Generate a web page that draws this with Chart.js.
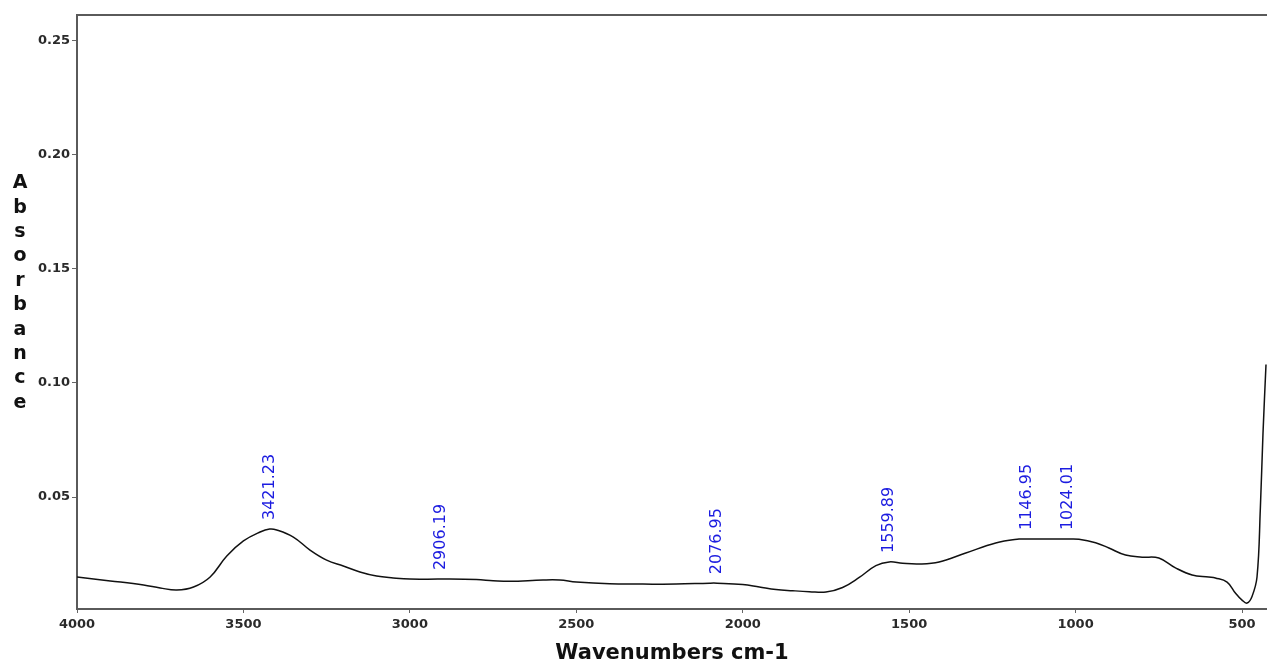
<!DOCTYPE html>
<html>
<head>
<meta charset="utf-8">
<title>FTIR Absorbance</title>
<script src="https://cdn.jsdelivr.net/npm/chart.js@4.4.1/dist/chart.umd.min.js"></script>
<style>
  html, body { margin: 0; padding: 0; background: #fff; }
  #wrap { width: 1267px; height: 666px; position: relative; }
</style>
</head>
<body>
<div id="wrap"><canvas id="ftirChart"></canvas></div>
<script>
// spectrum (wavenumber cm-1 -> absorbance)
const wavenumbers = [4000, 3900, 3800, 3750, 3700, 3650, 3600, 3550, 3500, 3450, 3421.23, 3400, 3350, 3300,
  3250, 3200, 3150, 3100, 3050, 3000, 2906.19, 2800, 2750, 2700, 2600, 2550, 2500, 2400, 2300, 2200,
  2100, 2076.95, 2000, 1950, 1900, 1850, 1800, 1750, 1700, 1650, 1600, 1559.89, 1520, 1470,
  1410, 1330, 1240, 1170, 1146.95, 1100, 1024.01, 990, 940, 900, 850, 800, 750, 700, 650,
  600, 580, 545, 520, 500, 485, 470, 455, 445, 437, 428];
const absorbance = [0.0150, 0.0133, 0.0115, 0.0102, 0.0093, 0.0106, 0.0150, 0.0242, 0.0308, 0.0347, 0.0360, 0.0356, 0.0325, 0.0268,
  0.0224, 0.0198, 0.0172, 0.0154, 0.0146, 0.0141, 0.0141, 0.0139, 0.0134, 0.0131, 0.0137, 0.0137, 0.0128, 0.0120, 0.0119, 0.0119,
  0.0123, 0.0123, 0.0117, 0.0106, 0.0095, 0.0090, 0.0086, 0.0084, 0.0104, 0.0148, 0.0200, 0.0216, 0.0210, 0.0207,
  0.0216, 0.0255, 0.0299, 0.0316, 0.0316, 0.0316, 0.0316, 0.0315, 0.0300, 0.0277, 0.0246, 0.0237, 0.0233, 0.0190, 0.0159,
  0.0150, 0.0146, 0.0128, 0.0080, 0.0049, 0.0036, 0.0065, 0.0150, 0.0450, 0.0780, 0.1080];

// labelled peaks
const peakLabels = ['3421.23', '2906.19', '2076.95', '1559.89', '1146.95', '1024.01'];

// axis ticks
const xTicks = [4000, 3500, 3000, 2500, 2000, 1500, 1000, 500];
const yTicks = [0.05, 0.10, 0.15, 0.20, 0.25];

const points = wavenumbers.map((w, i) => ({ x: w, y: absorbance[i] }));

const tickFont = { family: "'DejaVu Sans', sans-serif", size: 13, weight: 'bold' };

// peak annotations, top border line and stacked y title
const decorations = {
  id: 'decorations',
  afterDatasetsDraw(chart) {
    const { ctx, chartArea, scales } = chart;
    ctx.save();
    ctx.fillStyle = '#1c1ce0';
    ctx.font = "16px 'DejaVu Sans', sans-serif";
    ctx.textAlign = 'left';
    ctx.textBaseline = 'middle';
    peakLabels.forEach(lbl => {
      const w = parseFloat(lbl);
      const i = wavenumbers.indexOf(w);
      const px = scales.x.getPixelForValue(w);
      const py = scales.y.getPixelForValue(absorbance[i]);
      ctx.save();
      ctx.translate(px, py - 9);
      ctx.rotate(-Math.PI / 2);
      ctx.fillText(lbl, 0, 0);
      ctx.restore();
    });

    ctx.strokeStyle = '#5a5a5a';
    ctx.lineWidth = 2;
    ctx.beginPath();
    ctx.moveTo(chartArea.left, chartArea.top);
    ctx.lineTo(chartArea.right, chartArea.top);
    ctx.stroke();

    ctx.fillStyle = '#111';
    ctx.font = "bold 19px 'DejaVu Sans', sans-serif";
    ctx.textAlign = 'center';
    ctx.textBaseline = 'middle';
    const word = 'Absorbance';
    const step = 24.4;
    const mid = (chartArea.top + chartArea.bottom) / 2;
    const start = mid - (word.length - 1) * step / 2 - 19;
    [...word].forEach((ch, k) => ctx.fillText(ch, 20, start + k * step));
    ctx.restore();
  }
};

new Chart(document.getElementById('ftirChart'), {
  type: 'line',
  data: {
    datasets: [{
      data: points,
      borderColor: '#111',
      borderWidth: 1.5,
      pointRadius: 0,
      fill: false,
      tension: 0.4
    }]
  },
  options: {
    responsive: true,
    maintainAspectRatio: false,
    animation: false,
    layout: { padding: { top: 15, right: 0, left: 0, bottom: 0 } },
    plugins: {
      legend: { display: false },
      tooltip: { enabled: false }
    },
    scales: {
      x: {
        type: 'linear',
        reverse: true,
        min: 425,
        max: 4000,
        afterBuildTicks: s => { s.ticks = xTicks.map(v => ({ value: v })); },
        afterFit: s => { s.height = 57; },
        grid: { drawOnChartArea: false, drawTicks: true, tickLength: 4, color: '#666' },
        border: { display: true, color: '#5a5a5a', width: 2 },
        ticks: { color: '#2a2a2a', font: tickFont, padding: 4, maxRotation: 0, callback: v => String(v) },
        title: {
          display: true,
          text: 'Wavenumbers cm-1',
          color: '#111',
          font: { family: "'DejaVu Sans', sans-serif", size: 21, weight: 'bold' },
          padding: { top: 2, bottom: 0 }
        }
      },
      y: {
        type: 'linear',
        min: 0.001,
        max: 0.261,
        afterBuildTicks: s => { s.ticks = yTicks.map(v => ({ value: v })); },
        afterFit: s => { s.width = 77; },
        grid: { drawOnChartArea: false, drawTicks: true, tickLength: 5, color: '#666' },
        border: { display: true, color: '#5a5a5a', width: 2 },
        ticks: { color: '#2a2a2a', font: tickFont, padding: 2, callback: v => v.toFixed(2) }
      }
    }
  },
  plugins: [decorations]
});
</script>
</body>
</html>
